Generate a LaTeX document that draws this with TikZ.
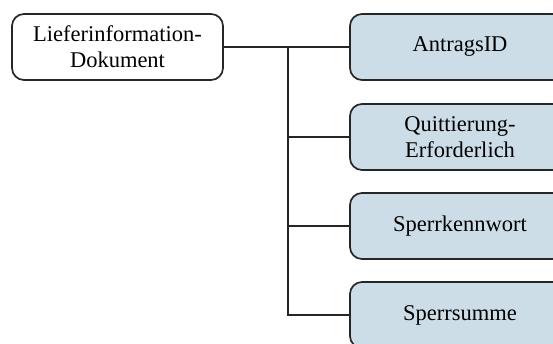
\documentclass[tikz,border=0pt]{standalone}
\usepackage{fontspec}
\setmainfont{Liberation Serif}
\definecolor{boxblue}{HTML}{CCDDE8}
\tikzset{
  docbox/.style={draw=black!85, line width=1.7pt, rounded corners=12pt, minimum width=211pt, minimum height=66pt, align=center, font=\fontsize{22.5}{26}\selectfont, inner sep=0pt},
  fieldbox/.style={docbox, fill=boxblue, minimum width=220pt},
  conn/.style={draw=black!85, line width=1.7pt}
}
\begin{document}
\begin{tikzpicture}[x=1pt,y=1pt]
\path[use as bounding box, clip] (0,0) rectangle (553,344);
\node[docbox] (doc) at (117.5,297) {Lieferinformation-\\Dokument};
\node[fieldbox] (a) at (460,297) {AntragsID};
\node[fieldbox] (b) at (460,207) {Quittierung-\\Erforderlich};
\node[fieldbox] (c) at (460,118) {Sperrkennwort};
\node[fieldbox] (d) at (460,29) {Sperrsumme};
\coordinate (t) at (288,297);
\draw[conn] (doc.east) -- (a.west);
\draw[conn] (t) |- (d.west);
\draw[conn] (t |- b.west) -- (b.west);
\draw[conn] (t |- c.west) -- (c.west);
\end{tikzpicture}
\end{document}
